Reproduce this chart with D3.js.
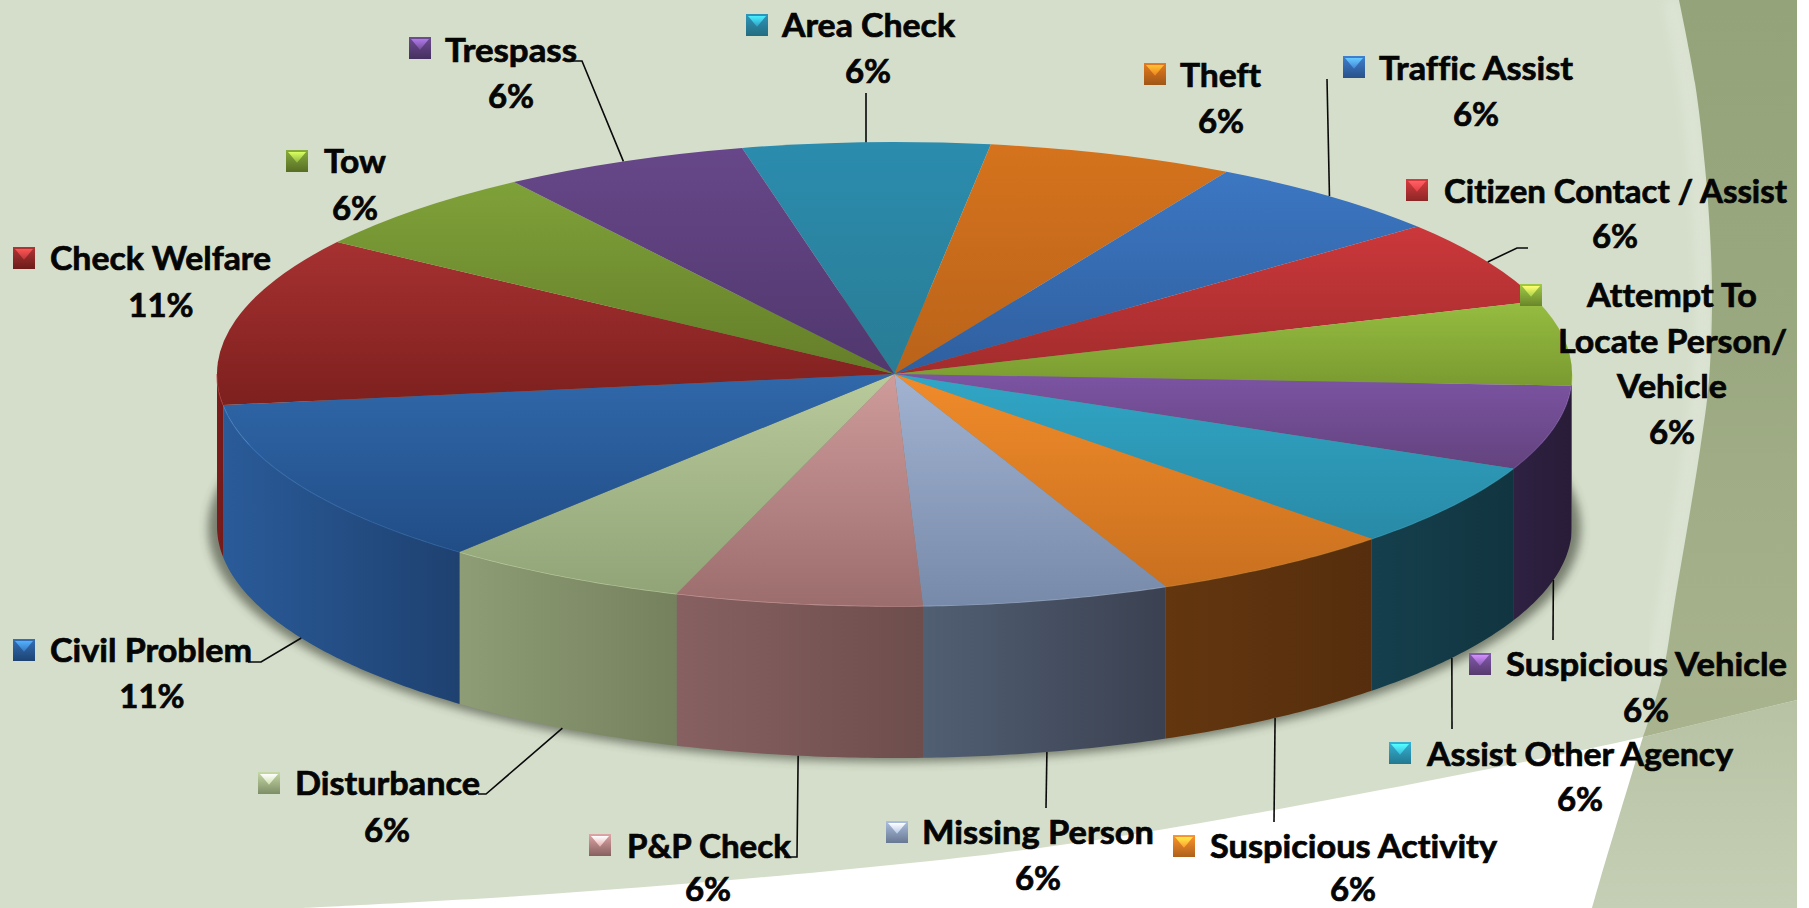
<!DOCTYPE html>
<html>
<head>
<meta charset="utf-8">
<title>Calls for service</title>
<script src="https://cdn.jsdelivr.net/npm/d3@7"></script>
<style>
  html, body { margin:0; padding:0; background:#fff; overflow:hidden; }
  svg { display:block; }
  text { font-family:Lato, "Open Sans", sans-serif; font-weight:700; fill:#050505;
         stroke:#050505; stroke-width:0.7px; font-variant-ligatures:none; }
</style>
</head>
<body>
<div id="chart"></div>
<script>
// clockwise from the slice sitting at the top of the pie
const categories = ['Area Check','Theft','Traffic Assist','Citizen Contact / Assist','Attempt To Locate Person/ Vehicle',
  'Suspicious Vehicle','Assist Other Agency','Suspicious Activity','Missing Person','P&P Check','Disturbance',
  'Civil Problem','Check Welfare','Tow','Trespass'];
const counts    = [1,1,1,1,1,1,1,1,1,1,1,2,2,1,1];
const pctLabels = ['6%','6%','6%','6%','6%','6%','6%','6%','6%','6%','6%','11%','11%','6%','6%'];

const topLight  = ['#2b8cae','#d5731d','#3c77c2','#cb383b','#96bd41','#7c54a3','#31a6c6','#f08b2a','#a1b3d1','#cf9b9b','#b9ca9b','#3068aa','#a63131','#7fa139','#674789'];
const topDark   = ['#297c94','#b9631a','#2f5f9f','#a32c2c','#7a9a30','#63437e','#288aa6','#c9701f','#788aa9','#9c6d6d','#90a477','#214d86','#7d201e','#647e29','#50376d'];
const wallLight = ['#1e5a6c','#8a4a12','#24497a','#7a2020','#4f6420','#2e2142','#153f4d','#63360f','#515f73','#876161','#8e9d76','#2a5b99','#7c1d1d','#4a5e1e','#3a2850'];
const wallDark  = ['#1a4e5e','#7a4010','#1f3f6a','#6a1b1b','#465a1c','#281c38','#113540','#562e0d','#3b4151','#6e4d4d','#75815d','#1e4170','#741b1b','#42541a','#322246'];

// hand placed label boxes, same order as categories
const labelBoxes = [
  {mx:757, my:25,  lines:[[782,173,36]],  pct:[868,82]},
  {mx:1155,my:74,  lines:[[1180,81,86]],  pct:[1221,132]},
  {mx:1354,my:67,  lines:[[1379,194,79]], pct:[1476,125]},
  {mx:1417,my:190, lines:[[1444,343,202]],pct:[1615,247]},
  {mx:1531,my:295, lines:[[1587,170,306],[1558,229,352],[1617,110,397]], pct:[1672,443]},
  {mx:1480,my:664, lines:[[1506,281,675]],pct:[1646,721]},
  {mx:1400,my:753, lines:[[1427,306,765]],pct:[1580,810]},
  {mx:1184,my:846, lines:[[1210,287,857]],pct:[1353,900]},
  {mx:897, my:832, lines:[[922,232,843]], pct:[1038,889]},
  {mx:600, my:845, lines:[[627,164,857]], pct:[708,900]},
  {mx:269, my:783, lines:[[295,185,794]], pct:[387,841]},
  {mx:24,  my:650, lines:[[50,202,661]],  pct:[152,707]},
  {mx:24,  my:258, lines:[[50,221,269]],  pct:[161,316]},
  {mx:297, my:161, lines:[[324,62,172]],  pct:[355,219]},
  {mx:420, my:48,  lines:[[445,132,61]],  pct:[511,107]}
];
const lineBreaks = {4:['Attempt To','Locate Person/','Vehicle']};

// leader elbows, index into categories -> points after the pie edge. wall:true starts at wall bottom
const leaders = [
  {i:0,  pts:[[866,93]]},
  {i:2,  pts:[[1327,79]]},
  {i:3,  pts:[[1517,248],[1528,248]]},
  {i:5,  wall:true, pts:[[1553,640]]},
  {i:6,  wall:true, pts:[[1452,729]]},
  {i:7,  wall:true, pts:[[1274,822]]},
  {i:8,  wall:true, pts:[[1046,808]]},
  {i:9,  wall:true, pts:[[797,857],[784,857]]},
  {i:10, wall:true, pts:[[486,794],[478,794]]},
  {i:11, wall:true, pts:[[261,662],[248,662]]},
  {i:14, pts:[[582,61],[569,61]]}
];

const WIDTH = 1809, HEIGHT = 908, PAGE_W = 1797;
const cx = 894.5, cy = 374, rx = 677.5, ry = 232, depth = 152;
const deg = Math.PI/180;

const svg = d3.select('#chart').append('svg').attr('width',WIDTH).attr('height',HEIGHT);
const defs = svg.append('defs');

function gradient(id, horizontal, stops){
  const g = defs.append('linearGradient').attr('id',id)
     .attr('x1',0).attr('y1',0).attr('x2',horizontal?1:0).attr('y2',horizontal?0:1);
  stops.forEach(s=>g.append('stop').attr('offset',s[0]).attr('stop-color',s[1]));
}

/* ---- background ---- */
const curve = [[300,908],[520,896],[765,877],[1000,853],[1159,830],[1417,783],[1643,737],[1797,700]];
const bandEdge = [[1679,0],[1695,83],[1705,167],[1710,233],[1712,300],[1709,380],[1700,450],[1675,600],[1662,677],[1643,737],[1633,770],[1600,880],[1592,908]];
const smooth = d3.line().curve(d3.curveCatmullRom);

gradient('bandTop', false, [[0,'#95a37a'],[0.45,'#9aa880'],[1,'#a9b48f']]);
gradient('bandLow', false, [[0,'#b7c2a4'],[1,'#c5cfb5']]);

defs.append('filter').attr('id','blur').attr('x','-10%').attr('y','-10%').attr('width','120%').attr('height','120%')
    .append('feGaussianBlur').attr('stdDeviation',5);

svg.append('rect').attr('width',PAGE_W).attr('height',HEIGHT).attr('fill','#d5decb');
svg.append('path').attr('fill','#fff')
   .attr('d',smooth(curve)+`L${PAGE_W},${HEIGHT}L${curve[0][0]},${HEIGHT}Z`);

// band above and below the white sweep, split at the point they share
const bandUpper = bandEdge.slice(0,10);
const bandLower = bandEdge.slice(9);
svg.append('path').attr('fill','none').attr('stroke','#dce3d3').attr('stroke-width',16)
   .attr('transform','translate(-8,0)').attr('filter','url(#blur)').attr('d',smooth(bandUpper.slice(0,9)));
svg.append('path').attr('fill','url(#bandTop)')
   .attr('d',smooth(bandUpper)+`L${PAGE_W},700L${PAGE_W},0Z`);
svg.append('path').attr('fill','url(#bandLow)')
   .attr('d',smooth(bandLower)+`L${PAGE_W},${HEIGHT}L${PAGE_W},700Z`);

/* ---- pie ---- */
const pie = d3.pie().sort(null).value(d=>d)
   .startAngle(-13*deg).endAngle(347*deg);
const slices = pie(counts);

categories.forEach((c,i)=>{
  gradient('top'+i,  false, [[0,topLight[i]],[1,topDark[i]]]);
  gradient('wall'+i, true,  [[0,wallLight[i]],[1,wallDark[i]]]);
});

const rimX = a=>cx+rx*Math.sin(a);
const rimY = a=>cy-ry*Math.cos(a);

// soft shadow under the disc
svg.append('ellipse').attr('cx',cx).attr('cy',cy+depth+2).attr('rx',rx+9).attr('ry',ry+2)
   .attr('fill','#3b4030').attr('opacity',0.6).attr('filter','url(#blur)');

// side walls, only the part facing the viewer
const wallArea = d3.area().x(rimX).y0(rimY).y1(a=>rimY(a)+depth);
const rimLine  = d3.line().x(rimX).y(rimY);

slices.forEach((s,i)=>{
  const a0 = Math.max(s.startAngle, 90*deg), a1 = Math.min(s.endAngle, 270*deg);
  if(a1 <= a0) return;
  const steps = d3.range(a0, a1, 0.01).concat(a1);
  svg.append('path').attr('d',wallArea(steps)).attr('fill',`url(#wall${i})`);
  svg.append('path').attr('d',rimLine(steps)).attr('fill','none')
     .attr('stroke',d3.color(topLight[i]).brighter(0.5)).attr('stroke-width',1.5).attr('opacity',0.55);
});

// top faces: circle arcs squashed into the ellipse
const arc = d3.arc().innerRadius(0).outerRadius(rx);
svg.append('g').attr('transform',`translate(${cx},${cy}) scale(1,${ry/rx})`)
   .selectAll('path').data(slices).enter().append('path')
   .attr('d',arc)
   .attr('fill',(d,i)=>`url(#top${i})`);

/* ---- leader lines ---- */
const leaderLine = d3.line();
leaders.forEach(l=>{
  const s = slices[l.i];
  const mid = (s.startAngle+s.endAngle)/2;
  const start = [rimX(mid), rimY(mid)+(l.wall?depth:0)];
  svg.append('path').attr('d',leaderLine([start].concat(l.pts)))
     .attr('fill','none').attr('stroke','#0a0a0a').attr('stroke-width',1.6);
});

/* ---- labels ---- */
const SIZE = 33, MARK = 22, NUDGE = 1;
categories.forEach((c,i)=>{
  const box = labelBoxes[i];
  const x0 = box.mx-MARK/2, y0 = box.my-MARK/2;
  const base = d3.color(topLight[i]);
  gradient('mark'+i, false, [[0,base.brighter(0.2)],[1,d3.color(topDark[i]).darker(0.4)]]);
  gradient('glint'+i, false, [[0,base.brighter(1.5)],[1,base.brighter(0.3)]]);

  svg.append('rect').attr('x',x0).attr('y',y0).attr('width',MARK).attr('height',MARK)
     .attr('fill',`url(#mark${i})`);
  svg.append('path').attr('fill',`url(#glint${i})`)
     .attr('d',`M${x0+2},${y0+2}L${x0+MARK-2},${y0+2}L${x0+MARK/2},${y0+MARK*0.58}Z`);

  const names = lineBreaks[i] || [c];
  names.forEach((txt,j)=>{
    const [x,w,y] = box.lines[j];
    svg.append('text').attr('x',x).attr('y',y+NUDGE).attr('font-size',SIZE)
       .attr('textLength',w).attr('lengthAdjust','spacingAndGlyphs').text(txt);
  });
  svg.append('text').attr('x',box.pct[0]).attr('y',box.pct[1]+NUDGE).attr('font-size',SIZE)
     .attr('text-anchor','middle').text(pctLabels[i]);
});
</script>
</body>
</html>
